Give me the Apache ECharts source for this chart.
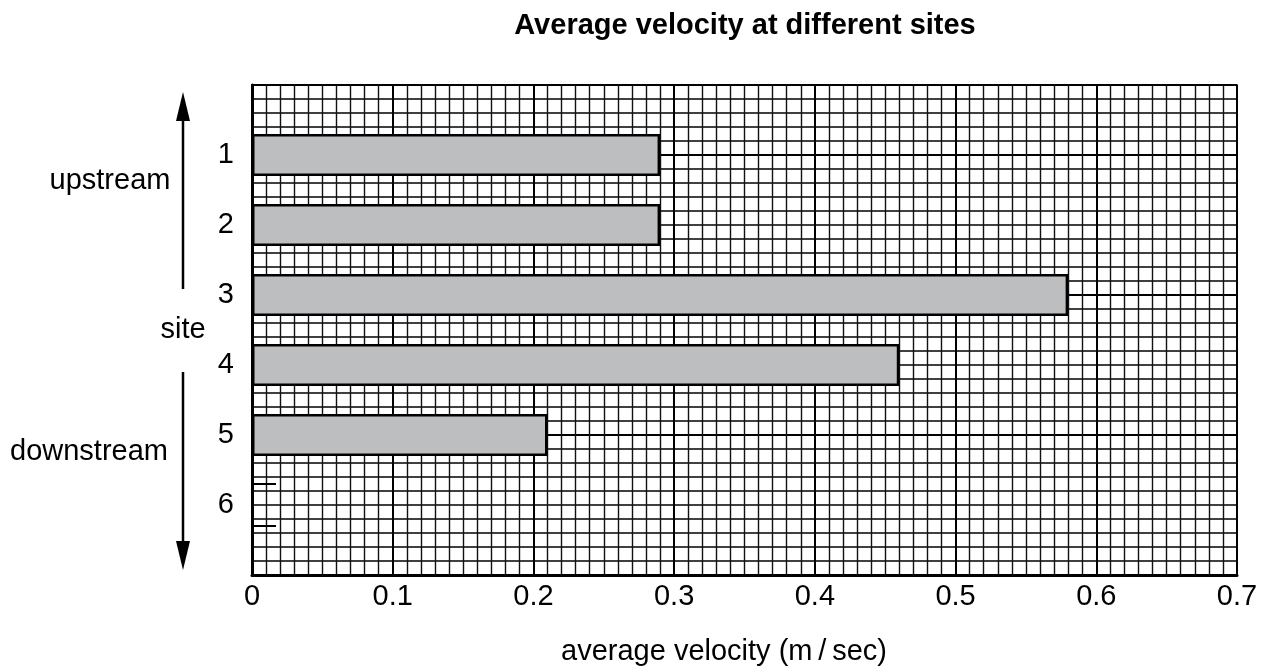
<!DOCTYPE html>
<html>
<head>
<meta charset="utf-8">
<script src="https://cdn.jsdelivr.net/npm/echarts@6/dist/echarts.min.js"></script>
<style>html,body{margin:0;padding:0;background:#fff;}#c{width:1266px;height:669px;}</style>
</head>
<body>
<div id="c"></div>
<script>
const sites = ['1', '2', '3', '4', '5', '6'];
const velocity = [0.29, 0.29, 0.58, 0.46, 0.21, 0];
const xTicks = [0, 0.1, 0.2, 0.3, 0.4, 0.5, 0.6, 0.7];
const stubSites = ['6'];

const FONT = 'Liberation Sans, Arial, Helvetica, sans-serif';
const FS = 29;
const catData = [''].concat(sites, ['']);
const barData = sites.map((s, i) => (velocity[i] > 0 ? velocity[i] : null));
const stubData = stubSites.map(s => [velocity[sites.indexOf(s)], s]);

const chart = echarts.init(document.getElementById('c'), null, {renderer: 'canvas'});
chart.setOption({
  backgroundColor: '#fff',
  animation: false,
  textStyle: {fontFamily: FONT},
  title: {
    text: 'Average velocity at different sites',
    left: 740, top: 6, textAlign: 'center',
    textStyle: {fontFamily: FONT, fontSize: 29, fontWeight: 'bold', color: '#000'}
  },
  grid: {left: 252, right: 29, top: 85, bottom: 94, show: true, borderColor: '#111', borderWidth: 1.5, backgroundColor: 'transparent'},
  xAxis: [{
    type: 'value', min: xTicks[0], max: xTicks[xTicks.length - 1], interval: 0.1,
    axisLine: {show: true, lineStyle: {color: '#000', width: 3}},
    axisTick: {show: false},
    axisLabel: {fontFamily: FONT, fontSize: FS, color: '#000', margin: 7,
      formatter: v => String(Math.round(v * 10) / 10)},
    splitLine: {show: true, lineStyle: {color: '#000', width: 2}},
    minorTick: {show: false, splitNumber: 10},
    minorSplitLine: {show: true, lineStyle: {color: '#111', width: 1.4}}
  }],
  yAxis: [{
    type: 'category', data: catData, inverse: true, boundaryGap: false,
    axisLine: {show: true, lineStyle: {color: '#000', width: 3}},
    axisTick: {show: false},
    axisLabel: {fontFamily: FONT, fontSize: FS, color: '#000', margin: 18},
    splitLine: {show: false}
  }, {
    type: 'value', min: 0, max: 35, interval: 1, position: 'right',
    axisLine: {show: false}, axisTick: {show: false}, axisLabel: {show: false},
    splitLine: {show: true, lineStyle: {color: '#000', width: 1.5}}
  }, {
    type: 'value', min: 0, max: 35, interval: 10, position: 'right',
    axisLine: {show: false}, axisTick: {show: false}, axisLabel: {show: false},
    splitLine: {show: true, lineStyle: {color: '#000', width: 2}}
  }],
  graphic: [
    {type: 'text', x: 724, y: 652, style: {text: 'average velocity (m\u2009/\u2009sec)', font: FS + 'px ' + FONT, fill: '#000', align: 'center', verticalAlign: 'middle'}},
    {type: 'text', x: 110, y: 181, style: {text: 'upstream', font: FS + 'px ' + FONT, fill: '#000', align: 'center', verticalAlign: 'middle'}},
    {type: 'text', x: 89, y: 452, style: {text: 'downstream', font: FS + 'px ' + FONT, fill: '#000', align: 'center', verticalAlign: 'middle'}},
    {type: 'text', x: 183, y: 330, style: {text: 'site', font: FS + 'px ' + FONT, fill: '#000', align: 'center', verticalAlign: 'middle'}},
    {type: 'line', shape: {x1: 183, y1: 289, x2: 183, y2: 115}, style: {stroke: '#000', lineWidth: 2.5}},
    {type: 'polygon', shape: {points: [[183, 92], [176, 121], [190, 121]]}, style: {fill: '#000'}},
    {type: 'line', shape: {x1: 183, y1: 372, x2: 183, y2: 548}, style: {stroke: '#000', lineWidth: 2.5}},
    {type: 'polygon', shape: {points: [[183, 570], [176, 541], [190, 541]]}, style: {fill: '#000'}}
  ],
  series: [{
    type: 'bar', xAxisIndex: 0, yAxisIndex: 0,
    data: [null].concat(barData, [null]),
    barWidth: 42,
    itemStyle: {color: '#bdbec0', borderColor: '#000', borderWidth: 2.5},
    z: 5
  }, {
    type: 'custom', xAxisIndex: 0, yAxisIndex: 0,
    data: stubData, z: 6,
    renderItem: function (params, api) {
      const p = api.coord([api.value(0), api.value(1)]);
      const h = 21, len = 24;
      return {type: 'group', children: [
        {type: 'line', shape: {x1: p[0], y1: p[1] - h, x2: p[0] + len, y2: p[1] - h}, style: {stroke: '#000', lineWidth: 2}},
        {type: 'line', shape: {x1: p[0], y1: p[1] + h, x2: p[0] + len, y2: p[1] + h}, style: {stroke: '#000', lineWidth: 2}}
      ]};
    }
  }]
});
</script>
</body>
</html>
